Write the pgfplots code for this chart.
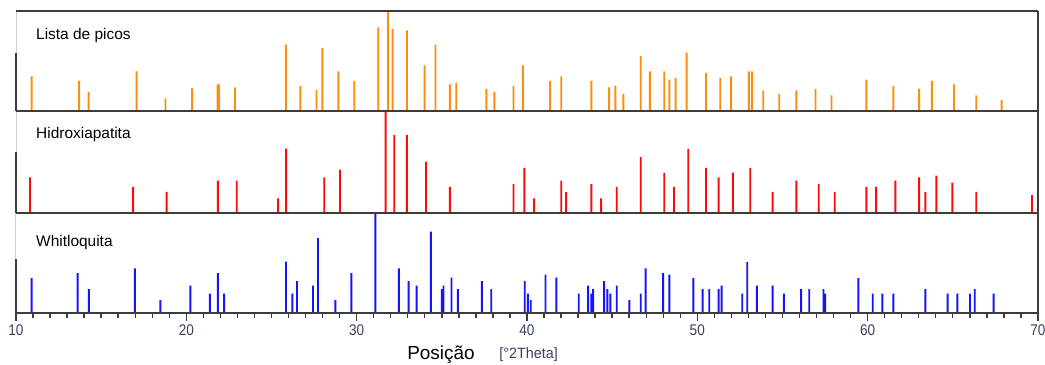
\documentclass[border=0pt]{standalone}
\usepackage{pgfplots}
\pgfplotsset{compat=1.18}
\usepackage{fontspec}
\setmainfont{Liberation Sans}
\definecolor{pkorange}{RGB}{255,140,10}
\definecolor{pkred}{RGB}{255,10,10}
\definecolor{pkblue}{RGB}{20,20,255}
\definecolor{frame}{RGB}{60,60,60}
\definecolor{ticklab}{RGB}{55,65,95}
\pgfplotsset{
  panel/.style={
    scale only axis, width=1022bp,
    xmin=10, xmax=70, ymin=0, ymax=100,
    clip=false, axis line style={draw=none},
    ytick=\empty, anchor=south west,
  },
  sticks/.style={ybar, bar width=1.9bp, bar shift=0pt, draw=none},
}
\begin{document}
\begin{tikzpicture}[x=1bp,y=1bp]
\useasboundingbox (-16,-51) rectangle (1029,313);
% ---------- top: Lista de picos ----------
\begin{axis}[panel, at={(0,202bp)}, height=100bp, xtick=\empty]
\addplot[sticks, fill=pkorange] coordinates {
(10.92,34.7)(13.71,30)(14.26,19)(17.08,39.6)(18.78,12.5)(20.34,22.5)
(21.83,26.7)(21.91,26.7)(22.86,23.5)(25.85,66.3)(26.70,25)(27.64,20.8)
(27.99,63)(28.93,39.6)(29.86,30)(31.27,83.5)(31.84,101)(32.11,81.9)
(32.95,80.5)(33.99,45.5)(34.63,66.3)(35.47,26.7)(35.85,28.4)(37.62,22)
(38.09,18.8)(39.21,25)(39.76,45.5)(41.36,30)(42.01,34.7)(43.78,30)
(44.82,23.5)(45.19,25)(45.66,17)(46.68,55)(47.22,39.6)(48.06,39.6)
(48.36,31.4)(48.73,33)(49.37,58.4)(50.51,38)(51.35,33)(51.99,34.7)
(53.03,39.6)(53.21,39.6)(53.87,20.5)(54.81,17)(55.82,20.5)(56.94,22)
(57.88,15.5)(59.93,31.4)(61.51,25)(63.02,22)(63.77,30)(65.07,26.7)
(66.38,15.5)(67.87,11)
};
\node[anchor=base west, font=\fontsize{15.5}{17}\selectfont] at (axis cs:10.98,71) {Lista de picos};
\draw[black!18, line width=1bp] (axis cs:10,58) -- (axis cs:10,100);
\draw[frame, line width=1.5bp] (axis cs:10,0) -- (axis cs:10,58);
\draw[frame, line width=1.8bp] (axis cs:10,100) -- (axis cs:70,100);
\end{axis}
% ---------- middle: Hidroxiapatita ----------
\begin{axis}[panel, at={(0,100bp)}, height=101.6bp, xtick=\empty]
\addplot[sticks, fill=pkred] coordinates {
(10.82,35)(16.88,25.6)(18.84,20.7)(21.85,31.8)(22.96,31.8)(25.39,14.4)
(25.86,63.3)(28.10,35)(29.02,42.6)(31.70,100)(32.21,77)(32.95,77)
(34.07,50.5)(35.47,25.6)(39.21,28.5)(39.85,44.3)(40.42,14.4)(42.01,31.8)
(42.30,20.7)(43.78,28.5)(44.35,14.4)(45.27,25.6)(46.68,55)(48.06,39.4)
(48.63,25.6)(49.47,63)(50.51,44.3)(51.25,35)(52.09,39.7)(53.11,44.3)
(54.42,20.7)(55.82,31.8)(57.13,28.5)(58.07,20.7)(59.93,25.6)(60.50,25.6)
(61.63,31.8)(63.02,35)(63.39,20.7)(64.04,36.7)(64.98,30)(66.38,20.7)
(69.65,17.7)
};
\node[anchor=base west, font=\fontsize{15.5}{17}\selectfont] at (axis cs:10.98,73) {Hidroxiapatita};
\draw[black!18, line width=1bp] (axis cs:10,60) -- (axis cs:10,100);
\draw[frame, line width=1.5bp] (axis cs:10,0) -- (axis cs:10,60);
\draw[frame, line width=1.8bp] (axis cs:10,100) -- (axis cs:70,100);
\end{axis}
% ---------- bottom: Whitloquita ----------
\begin{axis}[panel, at={(0,0)}, height=100bp,
  xtick={10,20,30,40,50,60,70},
  minor x tick num=9,
  xtick pos=bottom, tick align=outside,
  major tick length=7.5bp, minor tick length=5bp,
  major tick style={frame, line width=1.5bp},
  minor tick style={frame, line width=1.4bp},
  /pgf/number format/assume math mode=true,
  xticklabel style={font=\fontsize{15.5}{17}\selectfont, text=ticklab, xscale=0.88, yshift=-1bp},
]
\addplot[sticks, fill=pkblue] coordinates {
(10.92,35)(13.62,40)(14.28,24)(16.98,44.6)(18.48,13)(20.24,27.3)
(21.38,19.3)(21.85,40)(22.22,19.3)(25.85,51.3)(26.23,19.3)(26.50,32)
(27.44,27.3)(27.73,75)(28.75,13)(29.69,40)(31.10,100)(32.48,44.6)
(33.05,32)(33.52,27.3)(34.36,81.3)(35.00,24)(35.10,27.3)(35.57,35.3)
(35.94,24)(37.35,32)(37.90,24)(39.87,32)(40.05,19.3)(40.22,13)
(41.09,38.3)(41.73,35.3)(43.04,19.3)(43.59,27.3)(43.78,19.3)(43.88,24)
(44.53,32)(44.72,24)(44.90,19.3)(45.27,27.3)(46.01,13)(46.68,19.3)
(46.97,44.6)(47.99,40)(48.36,38.3)(49.77,35)(50.31,24)(50.70,24)
(51.25,24)(51.43,27.3)(52.64,19.3)(52.93,51)(53.50,27.3)(54.42,27.3)
(55.08,19.3)(56.10,24)(56.57,24)(57.41,24)(57.51,19.3)(59.46,35)
(60.30,19.3)(60.87,19.3)(61.51,19.3)(63.39,24)(64.70,19.3)(65.27,19.3)
(66.01,19.3)(66.29,24)(67.40,19.3)
};
\node[anchor=base west, font=\fontsize{15.5}{17}\selectfont] at (axis cs:10.98,66.6) {Whitloquita};
\draw[black!18, line width=1bp] (axis cs:10,54) -- (axis cs:10,100);
\draw[frame, line width=1.5bp] (axis cs:10,0) -- (axis cs:10,54);
\draw[frame, line width=1.8bp] (axis cs:10,0) -- (axis cs:70,0);
\draw[frame, line width=1.8bp] (axis cs:10,100) -- (axis cs:70,100);
\end{axis}
% right border
\draw[frame, line width=1.8bp] (1022,0) -- (1022,302);
% axis title
\node[anchor=base, font=\fontsize{19}{21}\selectfont] at (425,-46) {Posição};
\node[anchor=base west, font=\fontsize{15}{16}\selectfont, text=ticklab, xscale=0.96] at (480,-45) {[°2Theta]};
\end{tikzpicture}
\end{document}
